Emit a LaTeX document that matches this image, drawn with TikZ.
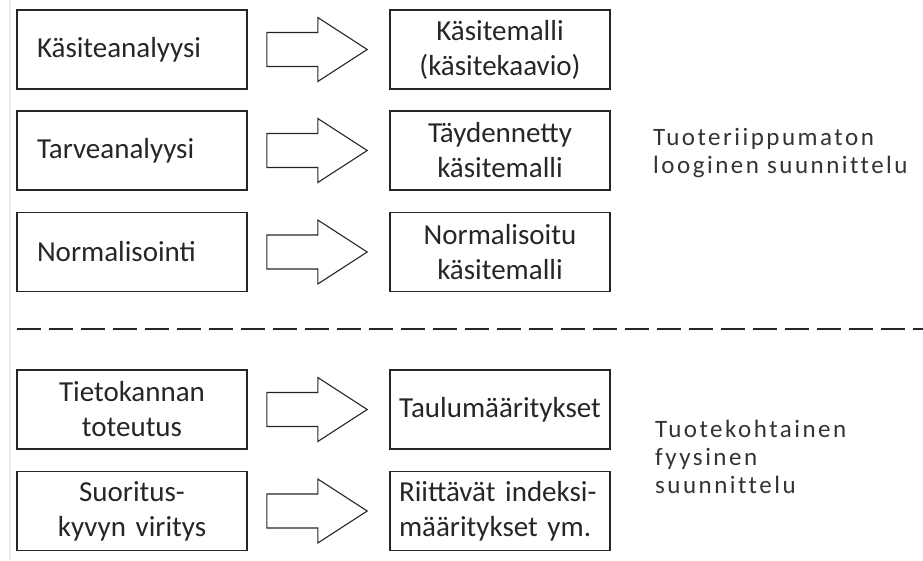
\documentclass[tikz,border=0pt]{standalone}
\usepackage{fontspec}
\setmainfont{Carlito}
\newfontfamily\sidefont[LetterSpace=10,Ligatures=NoCommon]{Carlito}
\usetikzlibrary{calc}

% hollow block arrow from the east side of one box to the west side of the next
\newcommand\hollowarrow[2]{%
  \draw[blockarrow] ($(#1.east)+(19,-17)$) -- ++(51,0) -- ++(0,-15)
    -- ($(#2.west)+(-22,0)$) -- ($(#1.east)+(70,32)$) -- ++(0,-15)
    -- ++(-51,0) -- cycle;}

\begin{document}
\begin{tikzpicture}[x=1pt,y=-1pt,
  box/.style={draw=black!85, line width=1.6pt, minimum height=79pt,
    inner sep=0pt, font=\fontsize{29}{35}\selectfont, text=black!85},
  leftbox/.style={box, minimum width=230pt, text width=190pt},
  rightbox/.style={box, minimum width=220pt, text width=214pt, align=center},
  blockarrow/.style={draw=black!85, line width=1.1pt, line join=miter},
  sidelabel/.style={font=\sidefont\fontsize{25}{28}\selectfont, align=left,
    inner sep=0pt, anchor=north west, text=black!80},
  separator/.style={draw=black!85, line width=2pt, dash pattern=on 24pt off 8pt}]
\useasboundingbox (0,0) rectangle (923,560);

% faint page edge on the left
\draw[gray!15, line width=1.5pt] (10,0) -- (10,560);

% logical design steps
\node[leftbox, align=left]   (ka) at (132,49.5)  {Käsiteanalyysi};
\node[leftbox, align=left]   (ta) at (132,150.5) {Tarveanalyysi};
\node[leftbox, align=left]   (no) at (132,252)   {Normalisointi};
\node[rightbox] (km) at (500,49.5)  {Käsitemalli\\(käsitekaavio)};
\node[rightbox] (tk) at (500,150.5) {Täydennetty\\käsitemalli};
\node[rightbox] (nk) at (500,252)   {Normalisoitu\\käsitemalli};

% physical design steps
\node[leftbox, align=center] (tt) at (132,409.5) {Tietokannan\\toteutus};
\node[leftbox, align=center] (sv) at (132,511)   {Suoritus-\\kyvyn~viritys};
\node[rightbox] (tm) at (500,409.5) {Taulumääritykset};
\node[rightbox, text width=202pt, align=left] (im) at (500,511)
  {Riittävät~indeksi-\\määritykset~ym.};

\hollowarrow{ka}{km}
\hollowarrow{ta}{tk}
\hollowarrow{no}{nk}
\hollowarrow{tt}{tm}
\hollowarrow{sv}{im}

% boundary between the two design phases
\coordinate (sepL) at (17,329);
\coordinate (sepR) at (923,329);
\draw[separator] (sepL) -- (sepR);

% phase labels
\node[sidelabel] (logical) at (653,128) {Tuoteriippumaton\\looginen suunnittelu};
\node[sidelabel] (physical) at (655,420) {Tuotekohtainen\\fyysinen\\suunnittelu};
\end{tikzpicture}
\end{document}
